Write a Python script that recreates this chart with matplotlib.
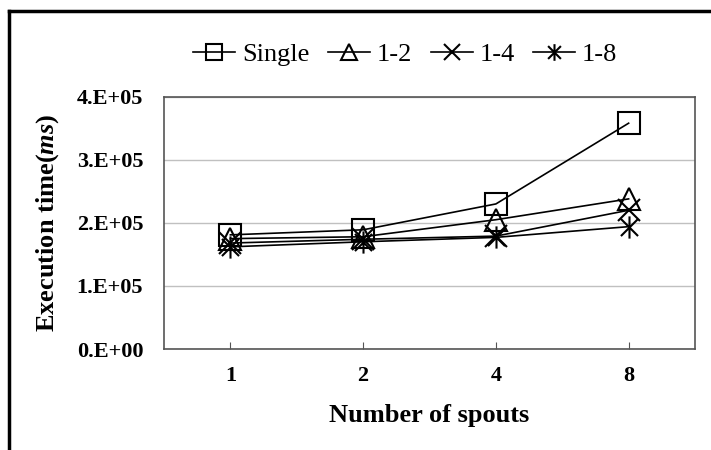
import numpy as np
import matplotlib.pyplot as plt
from matplotlib.path import Path
from matplotlib.lines import Line2D

# data
spouts = ['1', '2', '4', '8']
single = [1.81e5, 1.89e5, 2.30e5, 3.58e5]
one_2 = [1.75e5, 1.78e5, 2.05e5, 2.38e5]
one_4 = [1.68e5, 1.74e5, 1.79e5, 2.20e5]
one_8 = [1.62e5, 1.70e5, 1.77e5, 1.94e5]
yticks = [0, 1e5, 2e5, 3e5, 4e5]
ylabels = ['0.E+00', '1.E+05', '2.E+05', '3.E+05', '4.E+05']

# excel style asterisk: x with a vertical bar
star = Path([(-1, -1), (1, 1), (-1, 1), (1, -1), (0, -1.3), (0, 1.3)],
            [Path.MOVETO, Path.LINETO, Path.MOVETO, Path.LINETO, Path.MOVETO, Path.LINETO])

plt.rcParams['font.family'] = ['Liberation Serif', 'DejaVu Serif']
plt.rcParams['mathtext.fontset'] = 'custom'
plt.rcParams['mathtext.bfit'] = 'Liberation Serif:italic:bold'
plt.rcParams['mathtext.it'] = 'Liberation Serif:italic'
plt.rcParams['mathtext.rm'] = 'Liberation Serif'

fig = plt.figure(figsize=(7.11, 4.5), dpi=100)
ax = fig.add_axes([0.2307, 0.2244, 0.7468, 0.5607])

x = np.arange(len(spouts))
kw = dict(color='black', lw=1.2, markersize=16, markeredgewidth=1.5, fillstyle='none')
ax.plot(x, single, marker='s', label='Single', **kw)
ax.plot(x, one_2, marker='^', label='1-2', **kw)
ax.plot(x, one_4, marker='x', label='1-4', **kw)
ax.plot(x, one_8, marker=star, label='1-8', **kw)

ax.set_xlim(-0.5, len(spouts) - 0.5)
ax.set_ylim(0, 4e5)
ax.set_xticks(x)
ax.set_xticklabels(spouts, fontsize=16, fontweight='bold')
ax.set_yticks(yticks)
ax.set_yticklabels(ylabels, fontsize=16, fontweight='bold')
ax.tick_params(axis='x', direction='in', length=5, color='#555555', pad=12)
ax.tick_params(axis='y', length=0, pad=15)
ax.grid(axis='y', color='#c0c0c0', lw=1)
ax.set_axisbelow(True)
for s in ax.spines.values():
    s.set_color('#555555')
    s.set_linewidth(1.2)

ax.set_xlabel('Number of spouts', fontsize=19, fontweight='bold', labelpad=13)
ax.set_ylabel(r'Execution time($\mathbfit{ms}$)', fontsize=19, fontweight='bold', labelpad=11)

leg = fig.legend(loc='center', bbox_to_anchor=(0.57, 0.88), ncol=4, frameon=False,
                 prop={'family': 'Liberation Serif', 'size': 19},
                 handlelength=1.6, handletextpad=0.25, columnspacing=0.7,
                 markerscale=0.75)

# frame lines at left and top of the picture
fig.add_artist(Line2D([0.012, 0.012], [0, 0.975], color='black', lw=2.5))
fig.add_artist(Line2D([0.012, 1], [0.975, 0.975], color='black', lw=2.5))

plt.savefig('out.png', dpi=100)
